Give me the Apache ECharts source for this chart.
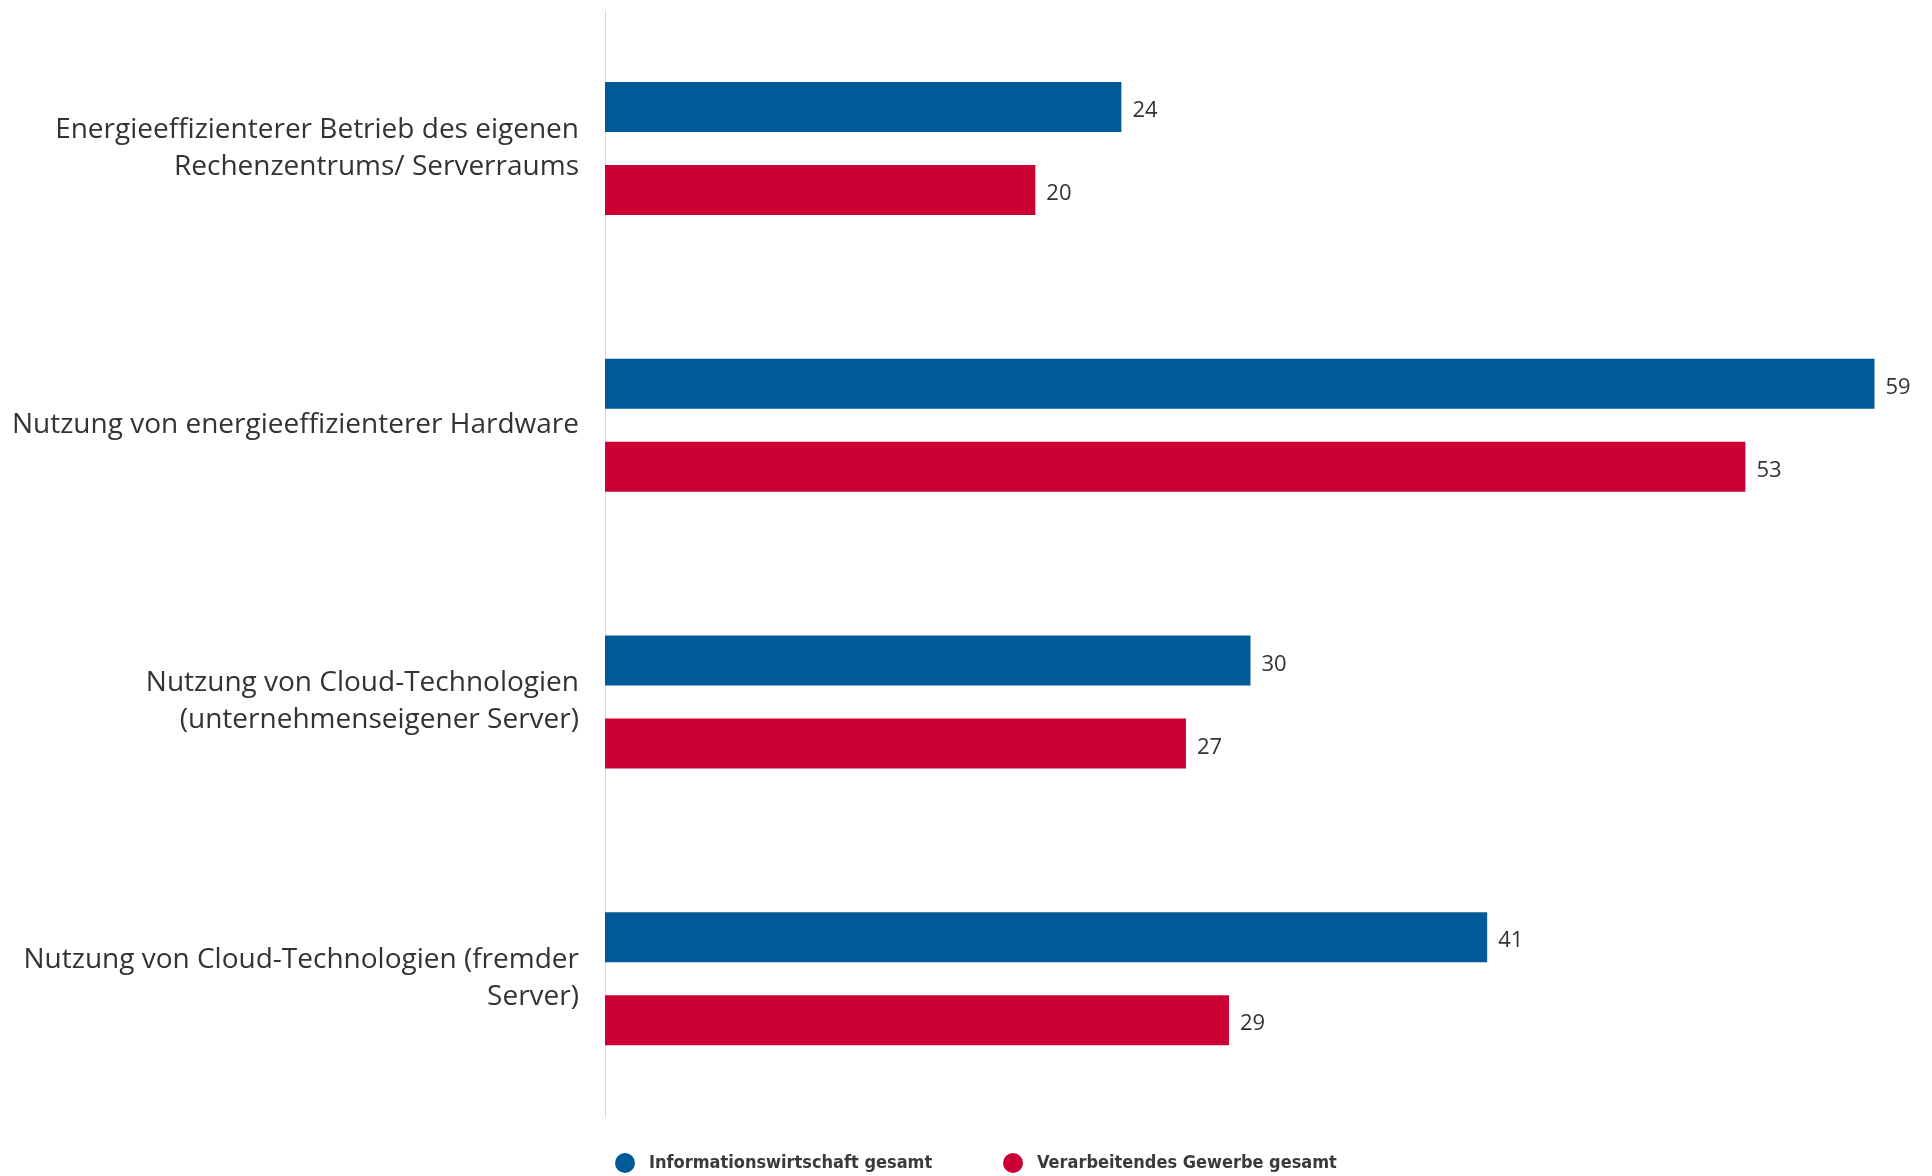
<!DOCTYPE html>
<html>
<head>
<meta charset="utf-8">
<script src="https://cdn.jsdelivr.net/npm/echarts@6/dist/echarts.min.js"></script>
<style>
  html,body{margin:0;padding:0;background:#fff;}
  #main{width:1932px;height:1176px;}
</style>
</head>
<body>
<div id="main"></div>
<script>
// Kategorien (von oben nach unten)
var categories = [
    'Energieeffizienterer Betrieb des eigenen\nRechenzentrums/ Serverraums',
    'Nutzung von energieeffizienterer Hardware',
    'Nutzung von Cloud-Technologien\n(unternehmenseigener Server)',
    'Nutzung von Cloud-Technologien (fremder\nServer)'
];
var seriesNames = ['Informationswirtschaft gesamt', 'Verarbeitendes Gewerbe gesamt'];
var infoValues = [24, 59, 30, 41];
var verarbValues = [20, 53, 27, 29];

var colorBlue = '#005a9a';
var colorRed = '#cc0033';

var chart = echarts.init(document.getElementById('main'));

var labelStyle = {
    show: true,
    position: 'right',
    distance: 11,
    offset: [0, 4],
    color: '#333',
    fontSize: 22,
    fontFamily: 'Open Sans'
};

var legendText = {fontFamily: 'DejaVu Sans Condensed', fontWeight: 'bold', fontSize: 18, color: '#3a3a3a', padding: [0, 0, 0, 4]};

var option = {
    backgroundColor: '#fff',
    animation: false,
    grid: {left: 605, right: 36, top: 10, bottom: 59, containLabel: false},
    legend: [
        {
            data: [seriesNames[0]],
            left: 610, top: 1148,
            icon: 'circle', itemWidth: 30, itemHeight: 20,
            textStyle: legendText
        },
        {
            data: [seriesNames[1]],
            left: 998, top: 1148,
            icon: 'circle', itemWidth: 30, itemHeight: 20,
            textStyle: legendText
        }
    ],
    xAxis: {
        type: 'value',
        min: 0, max: 60,
        show: false
    },
    yAxis: {
        type: 'category',
        inverse: true,
        data: categories,
        axisLine: {show: true, lineStyle: {color: '#d5d9e6', width: 1}},
        axisTick: {show: false},
        axisLabel: {
            margin: 26,
            fontSize: 28,
            lineHeight: 37,
            padding: [5, 0, 0, 0],
            color: '#333',
            fontFamily: 'Open Sans',
            align: 'right'
        },
        splitLine: {show: false}
    },
    series: [
        {
            name: seriesNames[0],
            type: 'bar',
            data: infoValues,
            barWidth: 50,
            barGap: '66%',
            itemStyle: {color: colorBlue},
            label: labelStyle
        },
        {
            name: seriesNames[1],
            type: 'bar',
            data: verarbValues,
            barWidth: 50,
            barGap: '66%',
            itemStyle: {color: colorRed},
            label: labelStyle
        }
    ]
};

chart.setOption(option);
</script>
</body>
</html>
